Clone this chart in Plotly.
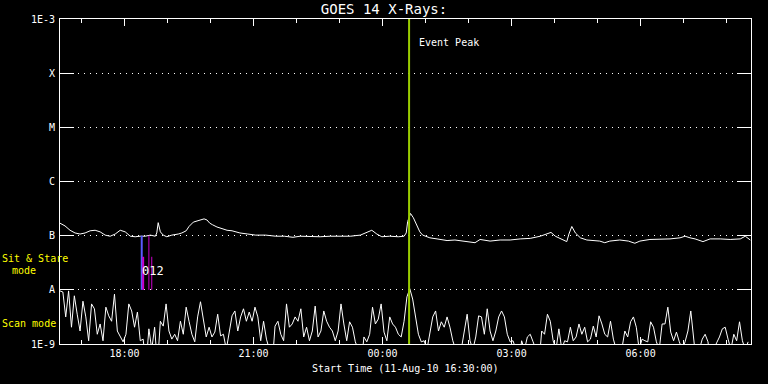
import numpy as np
import pandas as pd
import plotly.graph_objects as go

start = pd.Timestamp("2010-08-11 16:30")
x_end = pd.Timestamp("2010-08-12 08:34")

# Upper (sit & stare / 1-8 A channel) curve: clock time, log10 flux (W/m^2)
upper_times = ["16:30","16:37","16:44","16:51","16:58","17:05","17:12","17:19","17:26","17:33",
               "17:40","17:47","17:54","18:01","18:08","18:15","18:22","18:29","18:36","18:43",
               "18:45","18:47","18:50","18:54","18:59","19:06","19:15","19:20","19:26","19:30",
               "19:36","19:41","19:45","19:51","19:55","19:59","20:03","20:09","20:16","20:23",
               "20:30","20:41","20:52","21:03","21:17","21:31","21:43","21:55","22:05","22:19",
               "22:33","22:47","23:01","23:15","23:29","23:37","23:45","23:52","23:59","00:10",
               "00:22","00:30","00:33","00:35","00:39","00:43","00:48","00:52","00:56","01:06",
               "01:16","01:30","01:41","01:55","02:09","02:16","02:30","02:44","02:58","03:12",
               "03:26","03:40","03:50","03:55","04:01","04:08","04:17","04:20","04:24","04:29",
               "04:36","04:45","04:54","05:03","05:10","05:17","05:31","05:43","05:52","05:59",
               "06:13","06:27","06:41","06:55","07:02","07:09","07:16","07:27","07:37","07:51",
               "08:05","08:19","08:26","08:33"]
upper_log = [-6.77,-6.82,-6.90,-6.95,-6.97,-6.95,-6.91,-6.90,-6.93,-6.99,
             -7.01,-6.97,-6.90,-6.93,-7.01,-7.02,-7.01,-7.01,-6.99,-7.01,
             -6.95,-6.76,-6.93,-6.99,-7.02,-6.99,-6.97,-6.95,-6.91,-6.83,
             -6.75,-6.73,-6.71,-6.69,-6.71,-6.77,-6.80,-6.84,-6.87,-6.90,
             -6.91,-6.95,-6.97,-6.99,-6.99,-7.01,-7.01,-7.03,-7.01,-7.02,
             -7.02,-7.01,-7.01,-7.01,-6.99,-6.95,-6.90,-6.97,-7.02,-7.01,
             -7.02,-7.01,-6.95,-6.74,-6.59,-6.67,-6.83,-6.93,-6.99,-7.04,
             -7.06,-7.09,-7.08,-7.10,-7.13,-7.07,-7.10,-7.08,-7.08,-7.06,
             -7.05,-7.01,-6.97,-6.94,-7.01,-7.06,-7.11,-6.97,-6.83,-6.95,
             -7.04,-7.08,-7.09,-7.10,-7.13,-7.10,-7.08,-7.10,-7.14,-7.10,
             -7.07,-7.07,-7.06,-7.04,-7.01,-7.04,-7.06,-7.11,-7.06,-7.06,
             -7.07,-7.06,-7.01,-7.08]

# Lower (scan mode) curve: 4-minute samples from start, log10 flux
lower_log = [-8.02,-8.04,-8.50,-8.02,-8.69,-8.11,-8.45,-8.76,-8.21,-8.50,
             -8.94,-8.26,-8.35,-8.82,-8.63,-8.94,-8.32,-8.48,-8.58,-8.08,
             -8.76,-8.87,-8.96,-8.82,-8.26,-8.39,-8.69,-8.41,-8.94,-8.91,
             -9.40,-8.72,-9.10,-8.69,-9.40,-8.58,-8.67,-8.26,-8.76,-8.91,
             -8.82,-8.94,-8.58,-8.82,-8.32,-8.58,-8.82,-8.96,-8.50,-8.22,
             -8.58,-8.87,-8.69,-8.87,-8.78,-8.45,-8.85,-8.82,-9.10,-8.76,
             -8.48,-8.39,-8.76,-8.50,-8.35,-8.58,-8.41,-8.58,-8.32,-8.50,
             -8.94,-8.58,-8.91,-9.10,-9.40,-8.67,-8.58,-8.82,-8.94,-8.26,
             -8.69,-8.63,-8.50,-8.58,-8.35,-8.87,-8.69,-8.94,-8.76,-8.30,
             -8.87,-8.76,-8.39,-8.58,-8.69,-8.76,-8.94,-8.76,-8.26,-8.63,
             -8.94,-8.59,-8.69,-8.96,-9.10,-9.40,-8.87,-8.96,-8.82,-8.32,
             -8.63,-8.54,-8.26,-8.78,-8.94,-8.50,-8.63,-8.69,-8.82,-8.87,
             -8.58,-8.13,-7.98,-8.17,-8.48,-8.82,-8.96,-8.94,-9.10,-8.82,
             -8.50,-8.39,-8.76,-8.59,-8.69,-8.50,-8.69,-8.94,-9.10,-9.40,
             -9.10,-8.82,-8.45,-8.94,-9.10,-8.87,-8.48,-8.50,-8.82,-8.35,
             -8.76,-8.94,-8.76,-8.50,-8.39,-8.50,-8.82,-8.96,-8.94,-9.10,
             -9.40,-8.94,-9.10,-8.87,-8.82,-8.96,-9.10,-9.40,-8.76,-8.82,
             -8.45,-8.58,-8.94,-9.10,-8.72,-9.10,-8.94,-8.96,-8.69,-8.94,
             -8.87,-8.63,-8.82,-8.69,-8.96,-8.91,-8.67,-8.87,-8.48,-8.63,
             -8.82,-8.87,-8.58,-8.91,-9.10,-9.40,-9.10,-8.76,-8.87,-8.59,
             -8.50,-8.69,-9.10,-8.91,-8.94,-8.96,-8.59,-8.69,-8.96,-9.10,
             -8.63,-8.63,-8.32,-8.78,-8.94,-8.78,-8.96,-9.10,-8.96,-8.76,
             -8.39,-8.96,-9.40,-9.10,-8.91,-8.82,-8.96,-9.40,-9.10,-8.98,
             -8.87,-8.72,-8.69,-8.91,-9.10,-8.82,-8.94,-8.59,-8.94,-9.10,-8.96]

# Observation markers (times, top level log10) and labels
mark_times = ["18:24", "18:26", "18:34", "18:38"]
mark_top = [-7.0, -7.39, -7.0, -7.39]
mark_colors = ["#5a5aff", "#cc00cc", "#cc00cc", "#cc00cc"]
mark_widths = [2, 2, 1, 1]
mark_label = "012"
event_time = "00:37"

ytick_vals = [1e-9, 1e-8, 1e-7, 1e-6, 1e-5, 1e-4, 1e-3]
ytick_text = ["1E-9", "A", "B", "C", "M", "X", "1E-3"]
xtick_times = ["18:00", "21:00", "00:00", "03:00", "06:00"]


def to_dt(hm):
    t = pd.Timestamp("2010-08-11 " + hm)
    if t < start:
        t += pd.Timedelta(days=1)
    return t


upper_x = [to_dt(t) for t in upper_times]
lower_x = pd.date_range(start, periods=len(lower_log), freq="4min")

FONT = "DejaVu Sans Mono"
fig = go.Figure()
fig.add_trace(go.Scatter(x=upper_x, y=10 ** np.array(upper_log), mode="lines",
                         line=dict(color="white", width=1), showlegend=False))
fig.add_trace(go.Scatter(x=lower_x, y=10 ** np.array(lower_log), mode="lines",
                         line=dict(color="white", width=1), showlegend=False))
for t, top, c, w in zip(mark_times, mark_top, mark_colors, mark_widths):
    tt = to_dt(t)
    fig.add_trace(go.Scatter(x=[tt, tt], y=[1e-8, 10 ** top], mode="lines",
                             line=dict(color=c, width=w), showlegend=False))

ev = to_dt(event_time)
fig.add_shape(type="line", x0=ev, x1=ev, xref="x", yref="paper", y0=0, y1=1,
              line=dict(color="#9acd00", width=2))

ann_font = dict(family=FONT, size=10, color="white")
fig.add_annotation(x=ev, y=-3.44, xref="x", yref="y", text="Event Peak",
                   showarrow=False, xanchor="left", yanchor="middle", xshift=8, font=ann_font)
fig.add_annotation(x=to_dt(mark_times[0]), y=-7.65, xref="x", yref="y", text=mark_label,
                   showarrow=False, xanchor="left", yanchor="middle", xshift=-2,
                   font=dict(family=FONT, size=12, color="white"))
yel = dict(family=FONT, size=10, color="#ffff00")
fig.add_annotation(x=0, xref="paper", y=-7.43, yref="y", text="Sit & Stare",
                   showarrow=False, xanchor="center", yanchor="middle", xshift=-25, font=yel)
fig.add_annotation(x=0, xref="paper", y=-7.65, yref="y", text="mode",
                   showarrow=False, xanchor="center", yanchor="middle", xshift=-36, font=yel)
fig.add_annotation(x=0, xref="paper", y=-8.63, yref="y", text="Scan mode",
                   showarrow=False, xanchor="center", yanchor="middle", xshift=-31, font=yel)
fig.add_annotation(x=0.5, xref="paper", y=-0.074, yref="paper",
                   text="Start Time (11-Aug-10 16:30:00)", showarrow=False,
                   xanchor="center", yanchor="middle", font=ann_font)

fig.update_layout(
    width=768, height=384,
    margin=dict(l=60, r=17, t=19, b=40),
    paper_bgcolor="black", plot_bgcolor="black",
    title=dict(text="GOES 14 X-Rays:", xref="container", x=0.5, xanchor="center",
               yref="container", y=1 - 9 / 384, yanchor="middle",
               font=dict(family=FONT, size=14, color="white")),
    xaxis=dict(range=[start, x_end], type="date",
               tickvals=[to_dt(t) for t in xtick_times], ticktext=xtick_times,
               ticks="inside", ticklen=7, tickcolor="white", tickwidth=1,
               minor=dict(dtick=3600000, ticks="inside", ticklen=4, tickcolor="white"),
               showline=True, linecolor="white", linewidth=1, mirror="all",
               showgrid=False, zeroline=False,
               tickfont=dict(family=FONT, size=10, color="white")),
    yaxis=dict(type="log", range=[-9, -3], tickvals=ytick_vals, ticktext=ytick_text,
               ticks="inside", ticklen=14, tickcolor="white", tickwidth=1,
               showline=True, linecolor="white", linewidth=1, mirror="all",
               showgrid=True, gridcolor="white", gridwidth=1, griddash="1px,5px",
               zeroline=False, ticklabelstandoff=2,
               tickfont=dict(family=FONT, size=10, color="white")),
)

fig.write_html("out.html")
